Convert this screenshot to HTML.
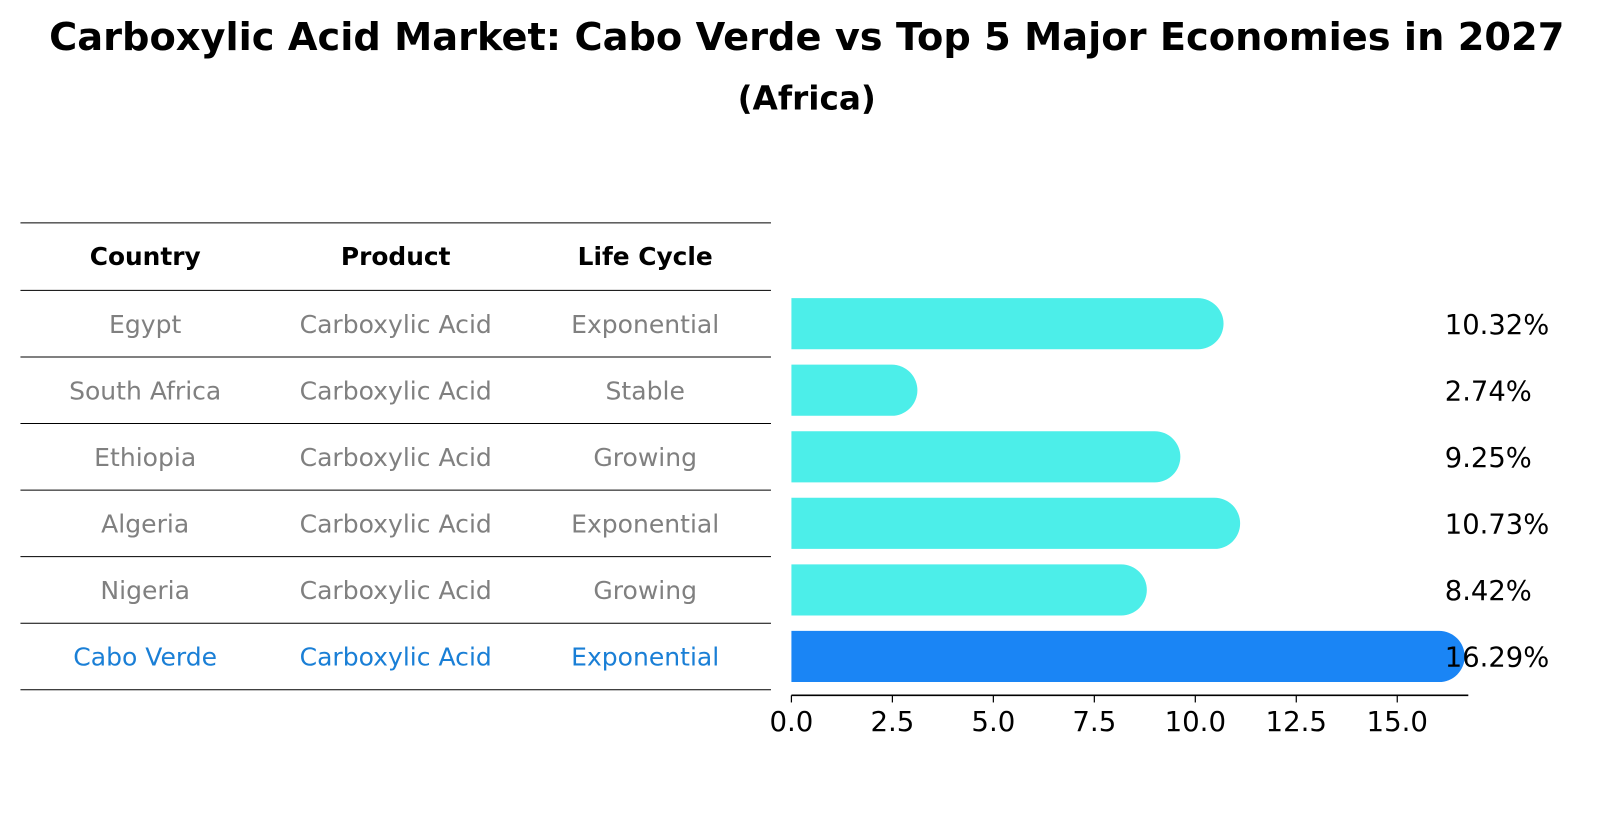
<!DOCTYPE html>
<html><head><meta charset="utf-8"><style>
html,body{margin:0;padding:0;background:#fff;}
svg{display:block;font-family:"DejaVu Sans","Liberation Sans",sans-serif;}
</style></head><body>
<svg id="chart" width="1604" height="823" viewBox="0 0 1604 823">
<g transform="scale(1.0225)">
<text x="789" y="49" text-anchor="middle" font-size="37.5" font-weight="bold" fill="#000">Carboxylic Acid Market: Cabo Verde vs Top 5 Major Economies in 2027</text>
<text x="789" y="107" text-anchor="middle" font-size="32" font-weight="bold" fill="#000">(Africa)</text>
<g id="table"></g>
<g id="bars"></g>
</g>
</svg>
<script>
const countries = ["Egypt","South Africa","Ethiopia","Algeria","Nigeria","Cabo Verde"];
const products = ["Carboxylic Acid","Carboxylic Acid","Carboxylic Acid","Carboxylic Acid","Carboxylic Acid","Carboxylic Acid"];
const lifeCycles = ["Exponential","Stable","Growing","Exponential","Growing","Exponential"];
const values = [10.32, 2.74, 9.25, 10.73, 8.42, 16.29];
const valueLabels = ["10.32%","2.74%","9.25%","10.73%","8.42%","16.29%"];
const xTicks = [0, 2.5, 5, 7.5, 10, 12.5, 15];
const xTickLabels = ["0.0","2.5","5.0","7.5","10.0","12.5","15.0"];

const NS = "http://www.w3.org/2000/svg";
function mk(tag, attrs, parent, text){
  const e = document.createElementNS(NS, tag);
  for (const k in attrs) e.setAttribute(k, attrs[k]);
  if (text !== undefined) e.textContent = text;
  parent.appendChild(e);
  return e;
}
const x0 = 774, xUnit = 39.5;
function xs(v){ return x0 + v * xUnit; }
const rowTop = 284, rowH = 65.1;
function rowCenter(i){ return rowTop + rowH * (i + 0.5); }

// table
const table = document.getElementById("table");
const colX = [142, 387, 631];
const lineYs = [218];
for (let i = 0; i <= countries.length; i++) lineYs.push(rowTop + rowH * i);
lineYs.forEach((y, i) => {
  const l = mk("line", {x1:20, x2:754, y1:y, y2:y, stroke:"#000", "stroke-width":1}, table);
  
  
});
["Country","Product","Life Cycle"].forEach((h, j) => {
  const t = mk("text", {x:colX[j], y:259, "text-anchor":"middle", "font-size":24.3, "font-weight":"bold", fill:"#000"}, table, h);
  
  
});
countries.forEach((c, i) => {
  const color = i === countries.length - 1 ? "#1a7fd6" : "#808080";
  const cy = rowCenter(i) + 9;
  [c, products[i], lifeCycles[i]].forEach((v, j) => {
    const t = mk("text", {x:colX[j], y:cy, "text-anchor":"middle", "font-size":24.5, fill:color}, table, v);
    
    
  });
});

// bars
const bars = document.getElementById("bars");
const barH = 50, r = 25;
values.forEach((v, i) => {
  const cy = rowCenter(i);
  const end = xs(v) + r - 10;
  const color = i === values.length - 1 ? "#1a85f5" : "#4ceee9";
  const d = `M${x0},${cy-barH/2} L${end-r},${cy-barH/2} A${r},${r} 0 0 1 ${end-r},${cy+barH/2} L${x0},${cy+barH/2} Z`;
  const p = mk("path", {d:d, fill:color}, bars);
  
  
  const t = mk("text", {x:1413, y:cy + 10, "font-size":26.8, fill:"#000"}, bars, valueLabels[i]);
  
  
});
// axis
const axisY = 680;
const ax = mk("line", {x1:x0, x2:1436, y1:axisY, y2:axisY, stroke:"#000", "stroke-width":1.5}, bars);


xTicks.forEach((v, i) => {
  const tk = mk("line", {x1:xs(v), x2:xs(v), y1:axisY, y2:axisY + 7, stroke:"#000", "stroke-width":1.2}, bars);
  
  
  const t = mk("text", {x:xs(v), y:715, "text-anchor":"middle", "font-size":27, fill:"#000"}, bars, xTickLabels[i]);
  
  
});
</script>
</body></html>
